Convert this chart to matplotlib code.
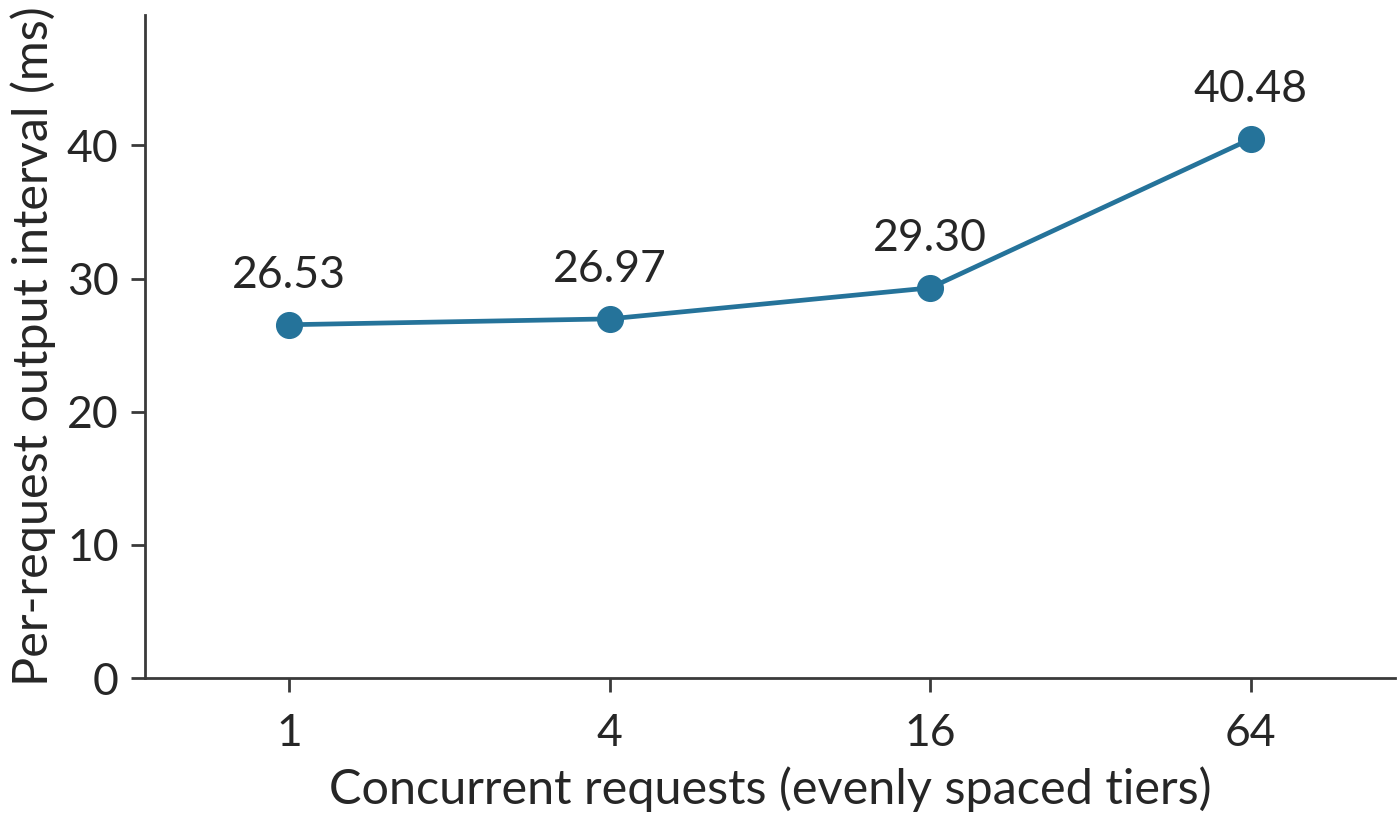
import matplotlib

matplotlib.use("Agg")
import matplotlib.pyplot as plt  # noqa: E402

# Per-request output interval by concurrency tier
TIERS = ["1", "4", "16", "64"]
INTERVAL_MS = [26.53, 26.97, 29.30, 40.48]
Y_TICKS = [0, 10, 20, 30, 40]

LINE_COLOR = "#25739a"
TEXT_COLOR = "#262626"
SPINE_COLOR = "#3a3a3a"

plt.rcParams["font.family"] = ["Lato", "DejaVu Sans"]


def style_axes(ax) -> None:
    ax.spines[["top", "right"]].set_visible(False)
    for side in ("left", "bottom"):
        ax.spines[side].set_color(SPINE_COLOR)
        ax.spines[side].set_linewidth(2.0)
    ax.tick_params(colors=SPINE_COLOR, labelcolor=TEXT_COLOR, width=2.0, length=10,
                   labelsize=32)
    ax.tick_params(axis="x", pad=15)
    ax.tick_params(axis="y", pad=9)


def main() -> None:
    fig = plt.figure(figsize=(14, 8.18), dpi=100)
    ax = fig.add_axes([0.1036, 0.1711, 0.8928, 0.8106])
    x = list(range(len(TIERS)))
    ax.plot(x, INTERVAL_MS, color=LINE_COLOR, linewidth=3.4, marker="o",
            markersize=18.5, zorder=3)
    for xi, val in zip(x, INTERVAL_MS):
        ax.annotate(f"{val:.2f}", (xi, val), xytext=(0, 26.5), textcoords="offset points",
                    ha="center", va="baseline", fontsize=32, color=TEXT_COLOR)
    ax.set_xlim(-0.45, len(TIERS) - 1 + 0.45)
    ax.set_ylim(0, max(INTERVAL_MS) * 1.23)
    ax.set_xticks(x, TIERS)
    ax.set_yticks(Y_TICKS)
    ax.set_xlabel("Concurrent requests (evenly spaced tiers)", fontsize=35, color=TEXT_COLOR,
                  labelpad=9)
    ax.set_ylabel("Per-request output interval (ms)", fontsize=35, color=TEXT_COLOR,
                  labelpad=8)
    style_axes(ax)
    fig.savefig("out.png", dpi=100)
    plt.close(fig)


if __name__ == "__main__":
    main()
